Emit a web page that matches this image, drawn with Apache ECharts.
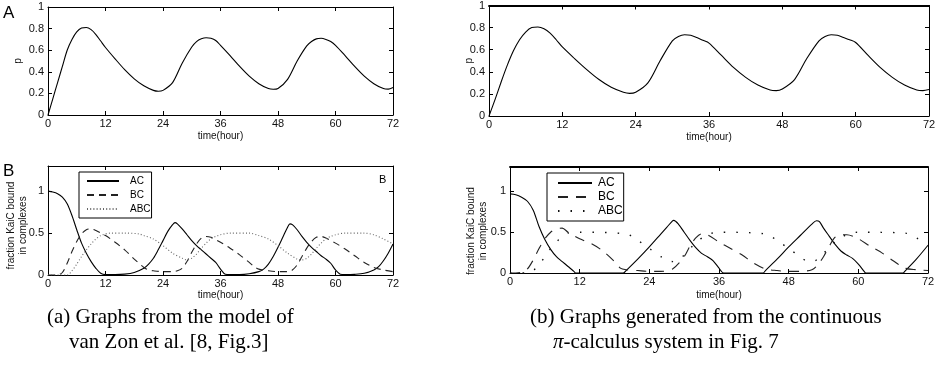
<!DOCTYPE html>
<html><head><meta charset="utf-8">
<script src="https://cdn.jsdelivr.net/npm/echarts@6/dist/echarts.min.js"></script>
<style>html,body{margin:0;padding:0;background:#fff}#c{width:942px;height:374px}</style>
</head><body><div id="c"></div>
<script>
// ---- Panel A left: p(t), model of van Zon et al.
const tPa = [0,1,2,3,4,5,6,7,8,9,10,11,12,14,16,18,20,22,23,24,26,28,30,31,32,33,34,35,36,38,40,42,44,46,47,48,50,52,54,55,56,57,58,59,60,62,64,66,68,70,71,72];
const pPa = [0,0.15,0.30,0.45,0.6,0.7,0.77,0.805,0.81,0.79,0.745,0.685,0.625,0.52,0.42,0.335,0.27,0.228,0.22,0.228,0.3,0.48,0.63,0.68,0.705,0.715,0.71,0.69,0.645,0.55,0.45,0.36,0.29,0.245,0.238,0.245,0.33,0.5,0.64,0.68,0.705,0.71,0.70,0.68,0.645,0.55,0.45,0.36,0.29,0.245,0.24,0.255];
// ---- Panel A right: p(t), continuous pi-calculus
const tPb = [0,1,2,3,4,5,6,7,8,9,10,11,12,14,16,18,20,22,23,24,26,28,30,31,32,33,34,35,36,38,40,42,44,46,47,48,50,52,54,55,56,57,58,59,60,62,64,66,68,70,71,72];
const pPb = [0,0.15,0.31,0.46,0.59,0.69,0.76,0.8,0.805,0.79,0.75,0.69,0.625,0.52,0.42,0.33,0.26,0.215,0.205,0.215,0.3,0.5,0.68,0.72,0.735,0.73,0.71,0.685,0.66,0.55,0.44,0.35,0.28,0.235,0.23,0.245,0.33,0.52,0.68,0.72,0.735,0.73,0.71,0.69,0.665,0.55,0.44,0.35,0.28,0.235,0.23,0.24];

// ---- Panel B left: fractions of KaiC bound in complexes
const tACa = [0,1,2,3,4,5,6,7,8,9,10,11,12,14,16,18,20,21,22,23,24,25,26,26.5,27,28,29,30,31,32,33,34,35,36,37,38,40,42,44,45,46,47,48,49,50,50.5,51,52,53,54,55,56,57,58,59,60,61,62,64,66,68,69,70,71,72];
const vACa = [1.0,0.99,0.97,0.93,0.85,0.71,0.54,0.38,0.26,0.16,0.08,0.02,0.005,0.005,0.01,0.03,0.08,0.13,0.2,0.3,0.41,0.52,0.6,0.625,0.61,0.55,0.48,0.41,0.35,0.3,0.25,0.2,0.15,0.07,0.01,0.005,0.005,0.015,0.04,0.07,0.13,0.22,0.33,0.45,0.57,0.61,0.6,0.54,0.46,0.39,0.33,0.28,0.23,0.19,0.14,0.06,0.01,0.005,0.008,0.02,0.06,0.1,0.17,0.26,0.37];
const tBCa = [0,2,3,4,5,6,7,8,9,10,12,14,16,18,20,21,22,24,26,27,28,29,30,31,32,33,34,36,38,40,42,43,44,46,48,50,51,52,53,54,55,56,57,58,60,62,64,66,68,70,72];
const vBCa = [0,0,0.03,0.14,0.28,0.4,0.49,0.54,0.55,0.53,0.47,0.39,0.3,0.19,0.09,0.06,0.05,0.04,0.04,0.05,0.08,0.16,0.27,0.37,0.44,0.46,0.45,0.39,0.32,0.24,0.15,0.1,0.07,0.05,0.04,0.04,0.06,0.12,0.22,0.32,0.4,0.45,0.46,0.44,0.38,0.31,0.23,0.15,0.09,0.06,0.04];
const tABCa = [0,4,5,6,7,8,9,10,11,12,13,16,19,20,22,24,26,28,29,30,31,32,33,34,35,36,38,42,44,46,48,50,52,53,54,55,56,57,58,59,60,62,66,68,70,72];
const vABCa = [0,0,0.05,0.13,0.22,0.3,0.37,0.43,0.47,0.49,0.5,0.5,0.49,0.47,0.43,0.35,0.26,0.2,0.18,0.2,0.25,0.32,0.38,0.43,0.46,0.48,0.5,0.5,0.47,0.43,0.35,0.26,0.19,0.18,0.2,0.25,0.32,0.38,0.43,0.46,0.48,0.5,0.5,0.48,0.43,0.37];

// ---- Panel B right: pi-calculus fractions
const tACb = [0,1,2,3,4,5,6,7,8,9,10,11,11.3,19.5,20,22,24,26,27,28,28.2,29,30,31,32,33,34,35,36,36.8,43.6,44,46,48,50,52,52.8,53.3,54,55,56,57,58,59,60,61,61.3,67.7,68,70,72];
const vACb = [0.97,0.96,0.93,0.88,0.77,0.57,0.41,0.29,0.2,0.14,0.08,0.02,0,0,0.03,0.17,0.32,0.48,0.56,0.64,0.645,0.6,0.5,0.4,0.31,0.24,0.2,0.15,0.06,0,0,0.03,0.17,0.32,0.46,0.6,0.64,0.63,0.55,0.45,0.35,0.27,0.22,0.18,0.11,0.02,0,0,0.02,0.17,0.34];
const tBCb = [0,2,3,4,5,6,7,8,9,10,12,14,16,18,19,20,22,24,26,28,30,31,32,33,34,36,38,40,42,44,46,48,50,52,53,54,55,56,57,58,60,62,64,66,68,70,72];
const vBCb = [0,0.01,0.05,0.16,0.3,0.42,0.5,0.54,0.55,0.5,0.42,0.36,0.27,0.14,0.06,0.04,0.03,0.02,0.02,0.05,0.2,0.33,0.43,0.48,0.47,0.38,0.3,0.22,0.12,0.05,0.03,0.02,0.02,0.04,0.1,0.2,0.33,0.44,0.47,0.47,0.42,0.33,0.25,0.15,0.06,0.04,0.03];
const tABCb = [0,3,4,5,6,7,8,9,10,12,20,22,24,26,27,28,29,30,32,34,36,44,46,48,50,51,52,53,54,56,58,60,68,70,72];
const vABCb = [0,0,0.03,0.1,0.2,0.3,0.38,0.45,0.49,0.5,0.48,0.4,0.3,0.2,0.15,0.14,0.16,0.22,0.37,0.47,0.5,0.48,0.4,0.3,0.2,0.15,0.14,0.17,0.24,0.38,0.47,0.5,0.49,0.43,0.35];

const xTickStep = 12;
const legendNames = ['AC','BC','ABC'];

const zip = (t, v) => t.map((x, i) => [x, v[i]]);
const FONT = 'Liberation Sans, Arial, Helvetica, sans-serif';
const SERIF = 'Liberation Serif, Times New Roman, serif';

const grids = [
  {left: 48, top: 7, width: 345, height: 108},
  {left: 489, top: 5, width: 440, height: 111},
  {left: 48, top: 166, width: 345, height: 109},
  {left: 510, top: 167, width: 418, height: 106}
];
const yMax = [1, 1, 1.3, 1.3];
const yInt = [0.2, 0.2, 0.5, 0.5];
const xNameGap = [16, 16, 15, 17];
const yNames = ['p', 'p', 'fraction KaiC bound\nin complexes', 'fraction KaiC bound\nin complexes'];
const yNameGap = [24, 14, 19, 21];
const yNamePad = [[0,0,0,0], [0,0,0,0], [0,10,0,0], [0,22,0,0]];
const topWidth = [1, 1.8, 1, 1.8];

const xAxes = [], yAxes = [];
grids.forEach((g, i) => {
  const tick = {show: true, inside: true, length: 4, lineStyle: {color: '#000', width: 1}};
  const line = {show: true, onZero: false, lineStyle: {color: '#000', width: 1}};
  xAxes.push({gridIndex: i, type: 'value', min: 0, max: 72, interval: xTickStep, position: 'bottom',
    axisLine: line, axisTick: tick, splitLine: {show: false},
    axisLabel: {color: '#111', fontSize: 11, fontFamily: FONT, margin: 3},
    name: 'time(hour)', nameLocation: 'middle', nameGap: xNameGap[i], nameMoveOverlap: false,
    nameTextStyle: {color: '#111', fontSize: 10, fontFamily: FONT}});
  xAxes.push({gridIndex: i, type: 'value', min: 0, max: 72, interval: xTickStep, position: 'top',
    axisLine: {show: true, onZero: false, lineStyle: {color: '#000', width: topWidth[i]}},
    axisTick: tick, splitLine: {show: false}, axisLabel: {show: false}});
  yAxes.push({gridIndex: i, type: 'value', min: 0, max: yMax[i], interval: yInt[i], position: 'left',
    axisLine: line, axisTick: tick, splitLine: {show: false},
    axisLabel: {color: '#111', fontSize: 11, fontFamily: FONT, margin: 4, showMaxLabel: i < 2},
    name: yNames[i], nameLocation: 'middle', nameRotate: 90, nameGap: yNameGap[i], nameMoveOverlap: false,
    nameTextStyle: {color: '#111', fontSize: 10, fontFamily: FONT, lineHeight: 12, padding: yNamePad[i]}});
  yAxes.push({gridIndex: i, type: 'value', min: 0, max: yMax[i], interval: yInt[i], position: 'right',
    axisLine: line, axisTick: tick, splitLine: {show: false}, axisLabel: {show: false}});
});

const mk = (name, gi, data, ls) => ({
  name, type: 'line', xAxisIndex: gi * 2, yAxisIndex: gi * 2, data,
  symbol: 'none', showSymbol: false, smooth: 0.3, animation: false, silent: true,
  lineStyle: Object.assign({color: '#000', width: 1.1}, ls),
  itemStyle: {color: ls.color || '#000'}
});

const series = [
  mk('p (a)', 0, zip(tPa, pPa), {}),
  mk('p (b)', 1, zip(tPb, pPb), {}),
  mk('AC', 2, zip(tACa, vACa), {type: 'solid'}),
  mk('BC', 2, zip(tBCa, vBCa), {type: [7, 5], color: '#222'}),
  mk('ABC', 2, zip(tABCa, vABCa), {type: [1, 2.2], color: '#666'}),
  mk('AC (b)', 3, zip(tACb, vACb), {type: 'solid'}),
  mk('BC (b)', 3, zip(tBCb, vBCb), {type: [10, 8], color: '#222'}),
  mk('ABC (b)', 3, zip(tABCb, vABCb), {type: [1.5, 11], color: '#111', width: 1.4})
];

const legendBase = {orient: 'vertical', selectedMode: false, borderColor: '#000', borderWidth: 1,
  itemHeight: 11, itemStyle: {opacity: 0, borderWidth: 0},
  formatter: n => n.split(' ')[0]};

const option = {
  backgroundColor: '#fff',
  animation: false,
  grid: grids.map(g => Object.assign({containLabel: false}, g)),
  xAxis: xAxes,
  yAxis: yAxes,
  series,
  legend: [
    Object.assign({}, legendBase, {data: legendNames, left: 79, top: 172, itemWidth: 32, itemGap: 4,
      padding: [4, 1, 4, 7], textStyle: {fontSize: 10, color: '#000', fontFamily: FONT, padding: [0, 0, 0, 6]}}),
    Object.assign({}, legendBase, {data: legendNames.map(n => n + ' (b)'), left: 547, top: 173, itemWidth: 34,
      itemGap: 2, padding: [4, 1, 4, 10], textStyle: {fontSize: 12, color: '#000', fontFamily: FONT, padding: [0, 0, 0, 1]}})
  ],
  graphic: [
    {type: 'text', left: 3, top: 5, style: {text: 'A', fontSize: 17, fontFamily: FONT, fill: '#000'}},
    {type: 'text', left: 3, top: 163, style: {text: 'B', fontSize: 17, fontFamily: FONT, fill: '#000'}},
    {type: 'text', left: 379, top: 174, style: {text: 'B', fontSize: 11, fontFamily: FONT, fill: '#000'}},
    {type: 'text', left: 47, top: 307, style: {text: '(a) Graphs from the model of', fontSize: 21, fontFamily: SERIF, fill: '#000'}},
    {type: 'text', left: 69, top: 332, style: {text: 'van Zon et al. [8, Fig.3]', fontSize: 21, fontFamily: SERIF, fill: '#000'}},
    {type: 'text', left: 530, top: 307, style: {text: '(b) Graphs generated from the continuous', fontSize: 21, fontFamily: SERIF, fill: '#000'}},
    {type: 'text', left: 553, top: 332, style: {rich: {i: {fontStyle: 'italic', fontSize: 21, fontFamily: SERIF}}, text: '{i|π}-calculus system in Fig. 7', fontSize: 21, fontFamily: SERIF, fill: '#000'}}
  ]
};

const chart = echarts.init(document.getElementById('c'), null, {renderer: 'canvas'});
chart.setOption(option);
</script>
</body></html>
